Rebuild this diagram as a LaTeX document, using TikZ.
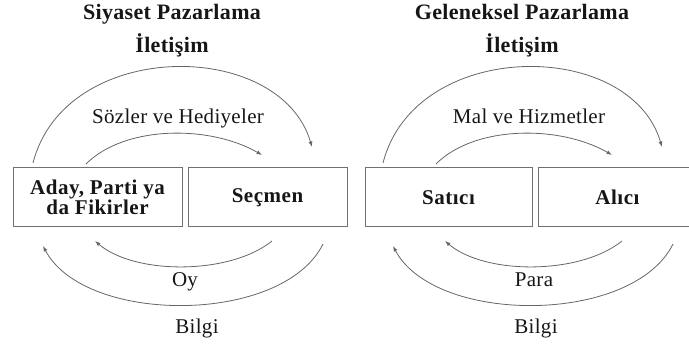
\documentclass[tikz,border=0pt]{standalone}
\usepackage{fontspec}
\setmainfont{Liberation Serif}
\newfontfamily\headfont{Liberation Serif}[LetterSpace=1.5]
\newfontfamily\boxfont{Liberation Serif}[LetterSpace=2.5]
\newfontfamily\flowfont{Liberation Serif}[LetterSpace=1.5]
\usetikzlibrary{arrows.meta}
\definecolor{ink}{HTML}{161616}
\definecolor{frame}{HTML}{707070}
\definecolor{flow}{HTML}{666666}
\tikzset{
  x=1pt, y=-1pt,
  title/.style={anchor=base, text=ink, font=\headfont\bfseries\fontsize{22}{24}\selectfont, inner sep=0pt},
  flowlabel/.style={anchor=base, text=ink, font=\flowfont\fontsize{21}{23}\selectfont, inner sep=0pt},
  party/.style={draw=frame, line width=1pt, text=ink, align=center, inner sep=0pt,
    minimum height=59pt, font=\boxfont\bfseries\fontsize{21}{20}\selectfont},
  flowline/.style={draw=flow, line width=0.8pt, -{Latex[length=5.5pt,width=4pt]}}
}
\begin{document}
\begin{tikzpicture}
\clip (0,0) rectangle (689,344);
\useasboundingbox (0,0) rectangle (689,344);

% --- political marketing (left) ---
\node[title] (h1) at (172,20) {Siyaset Pazarlama};
\node[title] (i1) at (172,53) {İletişim};
\node[party, minimum width=169pt] (aday) at (97.5,197.5) {Aday, Parti ya\\da Fikirler};
\node[party, minimum width=159pt] (secmen) at (267.5,197.5) {Seçmen};

\coordinate (a1) at (33,163);   \coordinate (a2) at (312,147);
\coordinate (b1) at (86,164);   \coordinate (b2) at (262,155);
\coordinate (c1) at (272,241);  \coordinate (c2) at (95,241);
\coordinate (d1) at (323,244);  \coordinate (d2) at (43,246);

\draw[flowline] (a1) .. controls (65,38) and (280,38) .. (a2);
\draw[flowline] (b1) .. controls (125,125) and (210,125) .. (b2);
\draw[flowline] (c1) .. controls (230,275) and (135,275) .. (c2);
\draw[flowline] (d1) .. controls (283,325) and (85,325) .. (d2);

\node[flowlabel] (l1) at (178,124) {Sözler ve Hediyeler};
\node[flowlabel] (l2) at (185,287) {Oy};
\node[flowlabel] (l3) at (197,334) {Bilgi};

% --- traditional marketing (right) ---
\node[title] (h2) at (522,20) {Geleneksel Pazarlama};
\node[title] (i2) at (522,53) {İletişim};
\node[party, minimum width=167pt] (satici) at (448.5,197.5) {Satıcı};
\node[party, minimum width=159pt] (alici) at (617.5,197.5) {Alıcı};

\coordinate (e1) at (383,163);  \coordinate (e2) at (662,147);
\coordinate (f1) at (436,164);  \coordinate (f2) at (612,155);
\coordinate (g1) at (622,241);  \coordinate (g2) at (445,241);
\coordinate (k1) at (673,244);  \coordinate (k2) at (393,246);

\draw[flowline] (e1) .. controls (415,38) and (630,38) .. (e2);
\draw[flowline] (f1) .. controls (475,125) and (560,125) .. (f2);
\draw[flowline] (g1) .. controls (580,275) and (485,275) .. (g2);
\draw[flowline] (k1) .. controls (633,325) and (435,325) .. (k2);

\node[flowlabel] (r1) at (529,124) {Mal ve Hizmetler};
\node[flowlabel] (r2) at (534,287) {Para};
\node[flowlabel] (r3) at (536,334) {Bilgi};
\end{tikzpicture}
\end{document}
